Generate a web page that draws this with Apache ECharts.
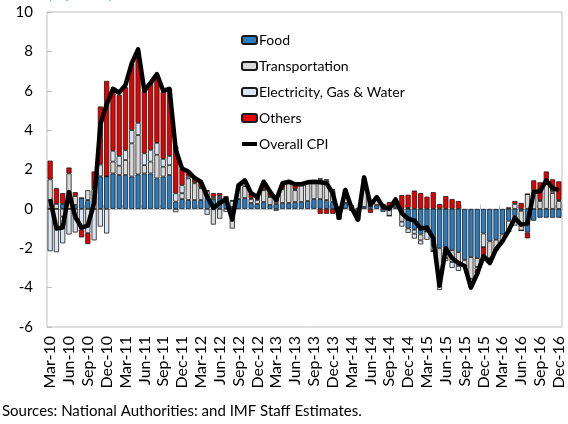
<!DOCTYPE html>
<html lang="en">
<head>
    <meta charset="UTF-8">
    <title>CPI contributions</title>
    <script src="https://cdn.jsdelivr.net/npm/echarts@6/dist/echarts.min.js"></script>
</head>
<body style="margin:0">

<div id="main" style="width: 568px;height:424px;"></div>

</body>
<script>

    // months Mar-10 .. Dec-16
    var monthNames = ['Jan', 'Feb', 'Mar', 'Apr', 'May', 'Jun', 'Jul', 'Aug', 'Sep', 'Oct', 'Nov', 'Dec'];
    var months = [];
    for (var y = 10; y <= 16; y++) {
        for (var m = 0; m < 12; m++) {
            if (y === 10 && m < 2) continue;
            months.push(monthNames[m] + '-' + y);
        }
    }

    var food = [0, 0, 0.25, 0, 0.2, 0.55, 0.45, 0, 1.65, 1.65,
        1.8, 1.72, 1.72, 1.64, 1.75, 1.8, 1.8, 1.55, 1.64, 1.72,
        0.37, 0.5, 0.45, 0.45, 0.45, 0.55, 0.5, 0.55, 0.5, 0.1,
        0.5, 0.55, 0.3, 0.25, 0.35, 0.2, 0.25, 0.3, 0.3, 0.35,
        0.35, 0.4, 0.5, 0.5, 0.45, 0.35, 0.1, 0.3, 0.1, 0.05,
        0.1, 0.15, 0.2, -0.15, 0.05, 0.1, -0.2, -1.0, -1.06, -1.3,
        -1.15, -1.9, -2.0, -2.1, -2.1, -2.2, -2.6, -2.45, -2.5, -1.25,
        -1.65, -1.57, -1.3, -0.6, -0.35, -0.1, -1.2, -0.6, -0.45, -0.45,
        -0.45, -0.45];
    var transport = [1.5, 0.25, -0.4, 1.8, 0.45, 0, 0.5, 1.0, 0.6, 0,
        0.6, 0.47, 0.76, 1.69, 2.0, 0.42, 0.6, 1.2, 0.5, 0.5,
        -0.17, 0.3, 1.1, 0.85, 0.6, 0.35, -0.8, -0.5, 0, -1.0,
        0.55, 0.6, 0.2, 0.2, 0.6, 0.4, 0.1, 0.7, 1.0, 0.6,
        0.85, 0.9, 0.8, 1.0, 1.0, 0.6, 0, 0.6, 0.05, -0.1,
        1.2, 0.25, 0.35, 0.2, -0.35, 0.1, -0.45, 0.05, -0.2, -0.3,
        0, -0.25, -1.9, -0.4, -0.6, -0.7, -0.3, -1.1, -0.45, -0.7,
        -0.85, -0.5, -0.35, -0.55, -0.5, -1.0, 0.75, 0.9, 0.4, 1.25,
        0.8, 0.4];
    var utilities = [-2.15, -2.2, -1.35, -1.3, -1.2, -1.05, -1.23, -1.6, -0.9, -1.25,
        0.55, 0.5, 0.5, 0.67, 0.62, 0.6, 0.6, 0.6, 0.4, 0.47,
        0.42, 0.4, 0.1, 0.05, 0.05, -0.3, 0.1, 0.1, -0.15, 0.3,
        0.05, 0.15, 0.05, 0.05, 0.05, 0.05, -0.1, 0.05, 0.05, 0.05,
        0.05, 0.05, 0.05, 0.05, 0.05, 0.05, -0.1, 0.05, 0, 0,
        0.05, 0, 0, 0, 0, 0, -0.25, -0.22, -0.25, -0.2,
        -0.42, 0, -0.22, -0.15, -0.3, -0.25, 0, -0.4, -0.15, 0,
        -0.2, 0, 0, 0, 0.25, 0, 0, 0.05, 0.05, 0.15,
        0.1, 0.05];
    var others = [0.95, 0.8, 0.55, 0.3, 0.2, -0.4, -0.56, 0.9, 2.95, 4.85,
        3.0, 3.1, 3.2, 3.38, 3.6, 3.2, 3.45, 3.45, 3.4, 3.4,
        2.4, 0.85, 0.25, 0.2, 0.25, 0.05, 0.2, 0.15, 0.15, 0.05,
        0.1, 0.15, 0.25, 0.1, 0.35, 0.2, 0.2, 0.25, 0.05, 0.2,
        0, 0, 0, -0.25, -0.25, -0.25, -0.45, 0, -0.1, -0.5,
        0.2, -0.2, 0.05, 0.05, 0.3, 0.3, 0.7, 0.67, 0.93, 0.8,
        0.62, 0.85, 0.25, 0.65, 0.5, 0.4, 0, -0.05, -0.2, -0.5,
        0, 0, 0, 0.08, 0.15, 0.3, -0.3, 0.5, 0.9, 0.5,
        0.6, 0.95];
    var cpi = [0.5, -1.0, -0.95, 0.85, -0.4, -0.95, -0.85, 0.3, 4.3, 5.3,
        6.1, 5.9, 6.3, 7.4, 8.1, 6.0, 6.4, 6.85, 6.0, 6.1,
        3.0, 2.05, 1.9, 1.57, 1.38, 0.62, 0.05, 0.3, 0.5, -0.55,
        1.2, 1.45, 0.8, 0.6, 1.38, 0.88, 0.46, 1.3, 1.38, 1.25,
        1.25, 1.35, 1.38, 1.35, 1.3, 0.8, -0.45, 0.96, 0.05, -0.55,
        1.6, 0.2, 0.6, 0.1, 0.0, 0.48, -0.22, -0.5, -0.6, -1.0,
        -0.95, -1.5, -3.9, -2.0, -2.5, -2.75, -2.9, -4.0, -3.3, -2.4,
        -2.75, -2.05, -1.65, -1.1, -0.47, -0.8, -0.75, 0.85, 0.9, 1.45,
        1.05, 0.95];

    var yTicks = {min: -6, max: 10, step: 2};

    var font = 'Lato';
    var gridColor = '#bfbfbf';

    function barSeries(name, data, color) {
        return {
            name: name,
            type: 'bar',
            stack: 'cpi',
            data: data,
            barCategoryGap: '18%',
            itemStyle: {color: color, borderColor: '#1a1a1a', borderWidth: 0.8}
        };
    }

    var mychart = echarts.init(document.getElementById('main'));

    var option = {
        animation: false,
        textStyle: {fontFamily: font},
        grid: {
            left: 47, right: 6, top: 12, bottom: 97,
            show: true, borderColor: gridColor, borderWidth: 1
        },
        legend: {
            orient: 'vertical',
            left: 236,
            top: 27,
            itemWidth: 15,
            itemHeight: 8,
            itemGap: 10,
            textStyle: {fontFamily: font, fontSize: 14, color: '#000', lineHeight: 16, padding: [0, 0, 0, -3]},
            data: ['Food', 'Transportation', 'Electricity, Gas & Water', 'Others',
                {name: 'Overall CPI', icon: 'path://M0,0h15v4h-15z'}]
        },
        xAxis: [
            {
                type: 'category',
                data: months,
                position: 'bottom',
                axisLine: {show: false, onZero: false},
                axisTick: {show: false},
                axisLabel: {interval: 2, rotate: 90, fontSize: 16, color: '#000', margin: 9}
            },
            {
                type: 'category',
                data: months,
                position: 'top',
                axisLine: {show: true, onZero: true, lineStyle: {color: gridColor, width: 1}},
                axisTick: {show: true, interval: 2, length: 4, lineStyle: {color: gridColor}},
                axisLabel: {show: false}
            }
        ],
        yAxis: {
            type: 'value',
            min: yTicks.min,
            max: yTicks.max,
            interval: yTicks.step,
            axisLine: {show: false},
            axisTick: {show: true, inside: true, length: 5, lineStyle: {color: gridColor}},
            splitLine: {show: false},
            axisLabel: {fontSize: 15, color: '#000', margin: 14}
        },
        series: [
            barSeries('Food', food, '#2b7dc0'),
            barSeries('Transportation', transport, '#d9d9d9'),
            barSeries('Electricity, Gas & Water', utilities, '#dce6f2'),
            barSeries('Others', others, '#e60000'),
            {
                name: 'Overall CPI',
                type: 'line',
                data: cpi,
                symbol: 'none',
                z: 5,
                lineStyle: {color: '#000', width: 4.5, join: 'round'},
                itemStyle: {color: '#000'}
            }
        ],
        graphic: [
            {
                type: 'text', left: 48, top: -12,
                style: {text: '(In percent)', fill: '#2e8bd0', font: '13px Lato'}
            },
            {
                type: 'text', left: 2, top: 404,
                style: {text: 'Sources: National Authorities: and IMF Staff Estimates.', fill: '#000', font: '15px Lato'}
            }
        ]
    };

    mychart.setOption(option);

</script>
</html>
